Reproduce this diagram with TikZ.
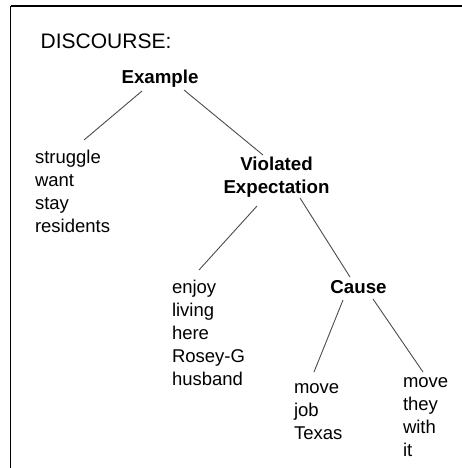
\documentclass[tikz,border=0pt]{standalone}
\usepackage{fontspec}
\setmainfont{Liberation Sans}
\newcommand{\leftstack}[1]{\vtop{\halign{##\hfil\cr#1\crcr}}}
\newcommand{\centerstack}[1]{\vtop{\halign{\hfil##\hfil\cr#1\crcr}}}
\tikzset{
  leaf/.style={inner sep=0pt, outer sep=0pt, font=\fontsize{18.5}{23}\selectfont, anchor=base west},
  rel/.style={inner sep=0pt, outer sep=0pt, font=\fontsize{18.7}{23}\selectfont\bfseries, anchor=base},
  link/.style={draw=black!70, line width=0.9pt},
  frameline/.style={draw=black, line width=1.5pt}
}
\begin{document}
\begin{tikzpicture}[x=1pt,y=-1pt]
\useasboundingbox (0,0) rectangle (462,468);
\fill[white] (0,0) rectangle (462,468);
\draw[frameline] (10.7,6) -- (462,6);
\draw[frameline] (10.7,6) -- (10.7,468);
\node[inner sep=0pt, anchor=base west, font=\fontsize{21}{25}\selectfont] (title) at (40.5,48.3) {DISCOURSE:};
\node[rel] (ex) at (160,84) {Example};
\node[leaf] (strug) at (35,163) {\leftstack{struggle\cr want\cr stay\cr residents}};
\node[rel] (vio) at (276.5,170) {\centerstack{Violated\cr Expectation}};
\node[leaf] (enjoy) at (172,293) {\leftstack{enjoy\cr living\cr here\cr Rosey-G\cr husband}};
\node[rel] (cause) at (358.5,293) {Cause};
\node[leaf] (mjt) at (294,393) {\leftstack{move\cr job\cr Texas}};
\node[leaf] (mtwi) at (403,387) {\leftstack{move\cr they\cr with\cr it}};
\draw[link] ([shift={(-18,7)}]ex.base) -- ([shift={(49,-23)}]strug.base west);
\draw[link] ([shift={(24,6)}]ex.base) -- ([shift={(-13.5,-15)}]vio.base);
\draw[link] ([shift={(-19.5,36)}]vio.base) -- ([shift={(27,-23)}]enjoy.base west);
\draw[link] ([shift={(23.5,28)}]vio.base) -- ([shift={(-8.5,-16)}]cause.base);
\draw[link] ([shift={(-15.5,7)}]cause.base) -- ([shift={(20,-21)}]mjt.base west);
\draw[link] ([shift={(14.5,6)}]cause.base) -- ([shift={(20,-15)}]mtwi.base west);
\end{tikzpicture}
\end{document}
